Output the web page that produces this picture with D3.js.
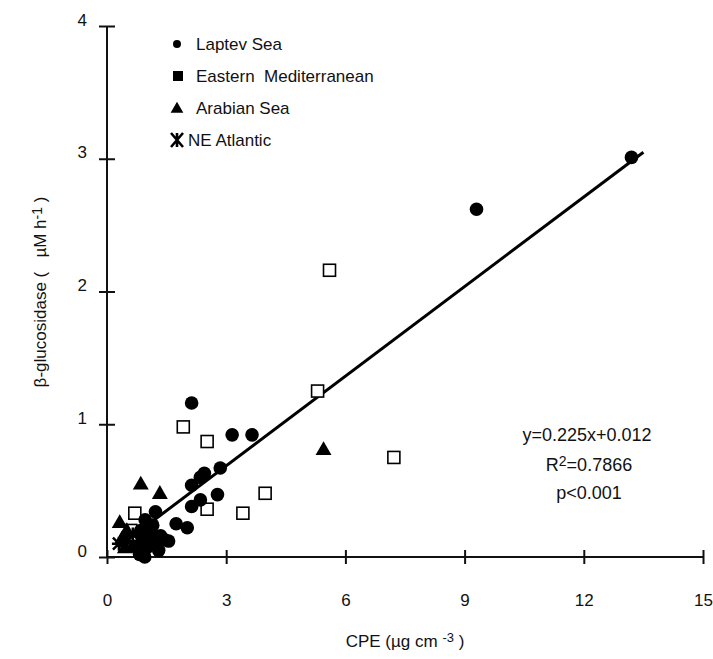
<!DOCTYPE html>
<html>
<head>
<meta charset="utf-8">
<script src="https://cdn.jsdelivr.net/npm/d3@7"></script>
<style>
  body { margin: 0; background: #fff; }
  text { font-family: "Liberation Sans", Arial, sans-serif; fill: #111; }
</style>
</head>
<body>
<div id="chart"></div>
<script>
// data: [CPE, beta-glucosidase]
var laptev = [
    [13.2, 3.01], [9.3, 2.62], [2.13, 1.16], [3.15, 0.92], [3.65, 0.92],
    [2.85, 0.67], [2.45, 0.63], [2.35, 0.6], [2.13, 0.54], [2.78, 0.47],
    [2.35, 0.43], [2.13, 0.38], [1.22, 0.34], [1.74, 0.25], [2.02, 0.22],
    [0.96, 0.28], [1.1, 0.2], [0.9, 0.13], [1.0, 0.07], [1.2, 0.1],
    [1.35, 0.16], [0.82, 0.02], [1.45, 0.13], [1.05, 0.17], [0.85, 0.2],
    [0.7, 0.08], [1.3, 0.05], [1.55, 0.12], [0.95, 0.0], [1.15, 0.24]
];
var easternMed = [
    [5.6, 2.16], [5.3, 1.25], [1.92, 0.98], [2.52, 0.87], [7.22, 0.75],
    [3.98, 0.48], [2.52, 0.36], [3.42, 0.33], [0.7, 0.33], [0.6, 0.2]
];
var arabian = [
    [0.85, 0.55], [1.33, 0.48], [5.45, 0.81], [0.32, 0.26], [0.38, 0.14],
    [0.5, 0.2], [0.45, 0.07]
];
var neAtlantic = [
    [0.5, 0.12], [0.75, 0.08], [0.3, 0.1], [0.65, 0.17]
];
var fit = { slope: 0.225, intercept: 0.012, from: 0.3, to: 13.5 };
var xTicks = [0, 3, 6, 9, 12, 15];
var yTicks = [0, 1, 2, 3, 4];
var legendNames = ["Laptev Sea", "Eastern\u00a0\u00a0Mediterranean", "Arabian Sea", "NE Atlantic"];

var width = 713, height = 659;
var svg = d3.select("#chart").append("svg")
    .attr("width", width)
    .attr("height", height);

var x = d3.scaleLinear().domain([0, 15]).range([107, 703]);
var y = d3.scaleLinear().domain([0, 4]).range([557, 26]);

// axes, ticks cross the axis line
var gx = svg.append("g")
    .attr("transform", `translate(0,${y(0)})`)
    .call(d3.axisBottom(x).tickValues(xTicks).tickFormat(d3.format("d")).tickSizeOuter(0).tickSize(7));
gx.selectAll(".tick line").attr("y1", -7).attr("y2", 7);
gx.selectAll(".tick text").attr("y", 49).attr("dy", 0).style("font-size", "17px");

var gy = svg.append("g")
    .attr("transform", `translate(${x(0)},0)`)
    .call(d3.axisLeft(y).tickValues(yTicks).tickFormat(d3.format("d")).tickSizeOuter(0).tickSize(8));
gy.selectAll(".tick line").attr("x1", -8).attr("x2", 8);
gy.selectAll(".tick text").attr("x", -20).attr("dy", "-0.05em").style("font-size", "17px");

gx.select(".domain").attr("d", `M${x(0)},0H${x(15)}`);
gy.select(".domain").attr("d", `M0,${y(0)}V${y(4)}`);
svg.selectAll(".domain").attr("stroke", "#111").attr("stroke-width", 2);
svg.selectAll(".tick line").attr("stroke", "#111").attr("stroke-width", 2);

// regression line
svg.append("line")
    .attr("x1", x(fit.from)).attr("y1", y(fit.slope * fit.from + fit.intercept))
    .attr("x2", x(fit.to)).attr("y2", y(fit.slope * fit.to + fit.intercept))
    .attr("stroke", "#000")
    .attr("stroke-width", 3);

var pts = svg.append("g");

pts.selectAll(".sq")
    .data(easternMed)
    .enter().append("rect")
    .attr("x", d => x(d[0]) - 6)
    .attr("y", d => y(d[1]) - 6)
    .attr("width", 12).attr("height", 12)
    .attr("fill", "#fff")
    .attr("stroke", "#000")
    .attr("stroke-width", 1.6);

pts.selectAll(".tri")
    .data(arabian)
    .enter().append("path")
    .attr("d", d3.symbol(d3.symbolTriangle, 110))
    .attr("transform", d => `translate(${x(d[0])},${y(d[1]) + 1})`)
    .attr("fill", "#000");

var star = "M-6,-6L6,6M-6,6L6,-6M-7,0L7,0M0,-7L0,7";
pts.selectAll(".ast")
    .data(neAtlantic)
    .enter().append("path")
    .attr("d", star)
    .attr("transform", d => `translate(${x(d[0])},${y(d[1])})`)
    .attr("stroke", "#000")
    .attr("stroke-width", 2.5);

pts.selectAll(".dot")
    .data(laptev)
    .enter().append("circle")
    .attr("cx", d => x(d[0]))
    .attr("cy", d => y(d[1]))
    .attr("r", 6.8)
    .attr("fill", "#000");

// legend
var legend = svg.append("g");
var rows = [44, 76, 108, 140];
legend.append("path").attr("d", d3.symbol(d3.symbolCircle, 50))
    .attr("transform", `translate(177,${rows[0]})`).attr("fill", "#000");
legend.append("rect").attr("x", 173).attr("y", rows[1] - 5).attr("width", 10).attr("height", 10)
    .attr("fill", "#000");
legend.append("path").attr("d", d3.symbol(d3.symbolTriangle, 70))
    .attr("transform", `translate(177,${rows[2] + 1})`).attr("fill", "#000");
legend.append("path").attr("d", "M-6,-7L6,7M-6,7L6,-7M0,-7L0,7")
    .attr("transform", `translate(177,${rows[3]})`)
    .attr("stroke", "#000").attr("stroke-width", 2.6);
legend.selectAll("text")
    .data(legendNames)
    .enter().append("text")
    .attr("x", (d, i) => i === 3 ? 188 : 196)
    .attr("y", (d, i) => rows[i] + 6)
    .style("font-size", "17px")
    .text(d => d);

// annotation
var ann = svg.append("g").attr("text-anchor", "middle").style("font-size", "18px");
ann.append("text").attr("x", 587).attr("y", 441).text("y=0.225x+0.012");
var r2 = ann.append("text").attr("x", 589).attr("y", 471);
r2.append("tspan").text("R");
r2.append("tspan").attr("dy", -5).style("font-size", "14px").text("2");
r2.append("tspan").attr("dy", 5).text("=0.7866");
ann.append("text").attr("x", 589).attr("y", 499).text("p<0.001");

// axis titles
var xt = svg.append("text")
    .attr("x", 405).attr("y", 647)
    .attr("text-anchor", "middle")
    .style("font-size", "17px");
xt.append("tspan").text("CPE (\u00b5g cm ");
xt.append("tspan").attr("dy", -5).style("font-size", "13px").text("-3");
xt.append("tspan").attr("dy", 5).text(" )");

var yt = svg.append("text")
    .attr("transform", "translate(46,292) rotate(-90)")
    .attr("text-anchor", "middle")
    .style("font-size", "17px");
yt.append("tspan").text("\u03b2-glucosidase (\u00a0\u00a0 \u00b5M h");
yt.append("tspan").attr("dy", -4).style("font-size", "14px").text("-1");
yt.append("tspan").attr("dy", 4).text(" )");
</script>
</body>
</html>
